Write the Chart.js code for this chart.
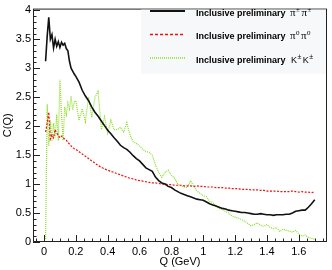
<!DOCTYPE html>
<html>
<head>
<meta charset="utf-8">
<script src="https://cdn.jsdelivr.net/npm/chart.js@4.4.1/dist/chart.umd.min.js"></script>
<style>
html, body { margin: 0; padding: 0; background: #fff; }
</style>
</head>
<body>
<canvas id="myChart" width="332" height="270"></canvas>
<script>
// bin centres (GeV)
var qValues = [0.01, 0.02, 0.03, 0.04, 0.05, 0.06, 0.07, 0.08, 0.09, 0.10,
    0.11, 0.12, 0.13, 0.14, 0.15, 0.16, 0.17, 0.18, 0.19, 0.20,
    0.22, 0.24, 0.26, 0.28, 0.30, 0.32, 0.34, 0.36, 0.38, 0.40,
    0.42, 0.44, 0.46, 0.48, 0.50, 0.52, 0.54, 0.56, 0.58, 0.60,
    0.62, 0.64, 0.66, 0.68, 0.70, 0.72, 0.74, 0.76, 0.78, 0.80,
    0.82, 0.84, 0.86, 0.88, 0.90, 0.92, 0.94, 0.96, 0.98, 1.00,
    1.02, 1.04, 1.06, 1.08, 1.10, 1.12, 1.14, 1.16, 1.18, 1.20,
    1.22, 1.24, 1.26, 1.28, 1.30, 1.32, 1.34, 1.36, 1.38, 1.40,
    1.42, 1.44, 1.46, 1.48, 1.50, 1.52, 1.54, 1.56, 1.58, 1.60,
    1.62, 1.64, 1.66, 1.68, 1.70];

var chargedPions = [3.12, 3.55, 3.88, 3.50, 3.58, 3.35, 3.50, 3.38, 3.46, 3.36,
    3.45, 3.40, 3.43, 3.34, 3.30, 3.12, 3.00, 2.95, 2.90, 2.86,
    2.76, 2.62, 2.52, 2.44, 2.33, 2.24, 2.17, 2.09, 2.01, 1.93,
    1.87, 1.80, 1.74, 1.67, 1.63, 1.60, 1.55, 1.49, 1.44, 1.40,
    1.34, 1.28, 1.25, 1.22, 1.12, 1.06, 1.02, 1.00, 0.96, 0.94,
    0.90, 0.87, 0.84, 0.82, 0.80, 0.78, 0.76, 0.74, 0.73, 0.72,
    0.69, 0.66, 0.64, 0.62, 0.60, 0.58, 0.57, 0.55, 0.54, 0.53,
    0.52, 0.51, 0.51, 0.50, 0.49, 0.48, 0.48, 0.49, 0.48, 0.47,
    0.47, 0.46, 0.47, 0.47, 0.47, 0.48, 0.48, 0.50, 0.53, 0.54,
    0.55, 0.55, 0.60, 0.66, 0.73];

var neutralPions = [1.90, 2.05, 2.24, 1.78, 1.85, 1.80, 1.94, 1.88, 1.84, 1.80,
    1.83, 1.80, 1.78, 1.76, 1.72, 1.69, 1.66, 1.63, 1.61, 1.60,
    1.56, 1.52, 1.48, 1.44, 1.40, 1.36, 1.32, 1.29, 1.26, 1.24,
    1.22, 1.20, 1.18, 1.16, 1.14, 1.12, 1.10, 1.09, 1.07, 1.06,
    1.05, 1.04, 1.03, 1.02, 1.02, 1.01, 1.00, 1.00, 0.99, 0.99,
    0.98, 0.98, 0.98, 0.97, 0.97, 0.97, 0.96, 0.97, 0.96, 0.96,
    0.95, 0.95, 0.95, 0.94, 0.94, 0.94, 0.93, 0.93, 0.92, 0.92,
    0.92, 0.91, 0.91, 0.91, 0.90, 0.90, 0.90, 0.89, 0.89, 0.88,
    0.88, 0.88, 0.88, 0.87, 0.87, 0.87, 0.87, 0.88, 0.87, 0.86,
    0.87, 0.86, 0.86, 0.85, 0.87];

var chargedKaons = [0.05, 2.38, 1.66, 2.10, 1.75, 2.05, 1.80, 2.20, 1.75, 2.80,
    2.20, 1.75, 2.33, 2.20, 2.40, 2.30, 2.52, 2.28, 2.42, 2.44,
    2.10, 2.30, 2.08, 2.50, 2.15, 2.50, 2.60, 1.94, 2.16, 1.88,
    2.10, 1.94, 1.94, 1.98, 1.90, 2.06, 1.85, 1.73, 1.70, 1.66,
    1.60, 1.56, 1.55, 1.50, 1.33, 1.20, 1.12, 1.20, 1.24, 1.15,
    1.10, 1.00, 0.97, 0.95, 0.94, 1.06, 0.96, 0.88, 0.84, 0.80,
    0.78, 0.70, 0.68, 0.62, 0.58, 0.56, 0.53, 0.50, 0.45, 0.43,
    0.41, 0.39, 0.36, 0.32, 0.28, 0.30, 0.33, 0.29, 0.27, 0.30,
    0.25, 0.23, 0.25, 0.18, 0.22, 0.20, 0.19, 0.17, 0.20, 0.14,
    0.10, 0.12, 0.08, 0.06, 0.05];

var seriesNames = ['Inclusive preliminary ', 'Inclusive preliminary ', 'Inclusive preliminary '];
var xTickValues = [0, 0.2, 0.4, 0.6, 0.8, 1, 1.2, 1.4, 1.6];
var yTickValues = [0, 0.5, 1, 1.5, 2, 2.5, 3, 3.5, 4];

var sansFont = "'Liberation Sans', Arial, sans-serif";
var serifFont = "'Liberation Serif', 'Times New Roman', serif";

function toPoints(values) {
    var pts = [];
    for (var i = 0; i < qValues.length; i++) {
        pts.push({ x: qValues[i], y: values[i] });
    }
    return pts;
}

// ROOT-style frame with ticks pointing into the plot
var frameTicks = {
    id: 'frameTicks',
    afterDatasetsDraw: function (chart) {
        var ctx = chart.ctx;
        var a = chart.chartArea;
        var xs = chart.scales.x, ys = chart.scales.y;
        ctx.save();
        ctx.strokeStyle = '#222';
        ctx.lineWidth = 1;
        ctx.strokeRect(a.left + 0.5, a.top + 0.5, a.right - a.left - 1, a.bottom - a.top - 1);
        ctx.beginPath();
        for (var k = -1; k <= 35; k++) {
            var v = k * 0.05;
            var px = Math.round(xs.getPixelForValue(v)) + 0.5;
            if (px < a.left || px > a.right) continue;
            var len = (k % 4 === 0) ? 7 : 3.5;
            ctx.moveTo(px, a.bottom);
            ctx.lineTo(px, a.bottom - len);
        }
        for (var j = 0; j <= 40; j++) {
            var py = Math.round(ys.getPixelForValue(j * 0.1)) + 0.5;
            var ylen = (j % 5 === 0) ? 7 : 3.5;
            ctx.moveTo(a.left, py);
            ctx.lineTo(a.left + ylen, py);
        }
        ctx.stroke();
        ctx.restore();
    }
};

function drawSup(ctx, x, y, base, sup, baseFont, supFont) {
    ctx.font = baseFont;
    ctx.fillText(base, x, y);
    x += ctx.measureText(base).width + 0.5;
    ctx.font = supFont;
    ctx.fillText(sup, x, y - 4);
    x += ctx.measureText(sup).width + 1.5;
    return x;
}

var legendBox = {
    id: 'legendBox',
    afterDraw: function (chart) {
        var ctx = chart.ctx;
        var a = chart.chartArea;
        ctx.save();
        ctx.fillStyle = '#f6f8f9';
        ctx.fillRect(141, a.top + 1, a.right - 142, 64);
        var rows = [11, 34.5, 58];
        var styles = [
            { color: '#111', dash: [], width: 2 },
            { color: '#ee1111', dash: [3, 2], width: 1.5 },
            { color: '#88dd22', dash: [1, 1], width: 1.5 }
        ];
        for (var i = 0; i < 3; i++) {
            ctx.beginPath();
            ctx.strokeStyle = styles[i].color;
            ctx.lineWidth = styles[i].width;
            ctx.setLineDash(styles[i].dash);
            ctx.moveTo(150, rows[i]);
            ctx.lineTo(185, rows[i]);
            ctx.stroke();
        }
        ctx.setLineDash([]);
        ctx.fillStyle = '#000';
        ctx.textBaseline = 'alphabetic';
        var x;
        for (var r = 0; r < 3; r++) {
            ctx.font = 'bold 9px ' + sansFont;
            ctx.fillText(seriesNames[r], 196, rows[r] + 4.5);
        }
        var sFont = '11px ' + serifFont, supFont = '7px ' + serifFont;
        x = drawSup(ctx, 290, rows[0] + 4.5, '\u03c0', '\u00b1', sFont, supFont);
        drawSup(ctx, x, rows[0] + 4.5, '\u03c0', '\u00b1', sFont, supFont);
        x = drawSup(ctx, 290, rows[1] + 4.5, '\u03c0', '0', sFont, supFont);
        drawSup(ctx, x, rows[1] + 4.5, '\u03c0', '0', sFont, supFont);
        var kFont = '9px ' + sansFont, kSup = '7px ' + sansFont;
        x = drawSup(ctx, 291, rows[2] + 4.5, 'K', '\u00b1', kFont, kSup);
        drawSup(ctx, x, rows[2] + 4.5, 'K', '\u00b1', kFont, kSup);
        ctx.restore();
    }
};

var ctx = document.getElementById('myChart').getContext('2d');
var chart = new Chart(ctx, {
    type: 'line',
    data: {
        datasets: [{
            label: 'pi+- pi+-',
            data: toPoints(chargedPions),
            borderColor: '#111',
            borderWidth: 1.6,
            pointRadius: 0,
            tension: 0
        }, {
            label: 'pi0 pi0',
            data: toPoints(neutralPions),
            borderColor: '#ee1111',
            borderWidth: 1.2,
            borderDash: [2, 1.5],
            pointRadius: 0,
            tension: 0
        }, {
            label: 'K+- K+-',
            data: toPoints(chargedKaons),
            borderColor: '#88dd22',
            borderWidth: 1.2,
            borderDash: [1, 1],
            pointRadius: 0,
            tension: 0
        }]
    },
    options: {
        responsive: false,
        animation: false,
        layout: { padding: { top: 2, right: 5, left: 0, bottom: 0 } },
        plugins: { legend: { display: false }, tooltip: { enabled: false } },
        scales: {
            x: {
                type: 'linear',
                min: -0.069,
                max: 1.777,
                afterFit: function (scale) { scale.height = 28; },
                afterBuildTicks: function (scale) {
                    scale.ticks = xTickValues.map(function (v) { return { value: v }; });
                },
                grid: { display: false, drawTicks: false },
                border: { display: false },
                ticks: {
                    padding: 3,
                    color: '#000',
                    maxRotation: 0,
                    font: { family: sansFont, size: 11 },
                    callback: function (v) { return String(Math.round(v * 10) / 10); }
                },
                title: {
                    display: true,
                    text: 'Q (GeV)',
                    color: '#000',
                    font: { family: sansFont, size: 11 },
                    padding: { top: 0, bottom: 1 }
                }
            },
            y: {
                min: 0,
                max: 4.03,
                afterFit: function (scale) { scale.width = 33; },
                afterBuildTicks: function (scale) {
                    scale.ticks = yTickValues.map(function (v) { return { value: v }; });
                },
                grid: { display: false, drawTicks: false },
                border: { display: false },
                ticks: {
                    padding: 2,
                    color: '#000',
                    font: { family: sansFont, size: 11 },
                    callback: function (v) { return String(v); }
                },
                title: {
                    display: true,
                    text: 'C(Q)',
                    color: '#000',
                    font: { family: sansFont, size: 11 },
                    padding: { top: 1, bottom: 0 }
                }
            }
        }
    },
    plugins: [frameTicks, legendBox]
});
</script>
</body>
</html>
